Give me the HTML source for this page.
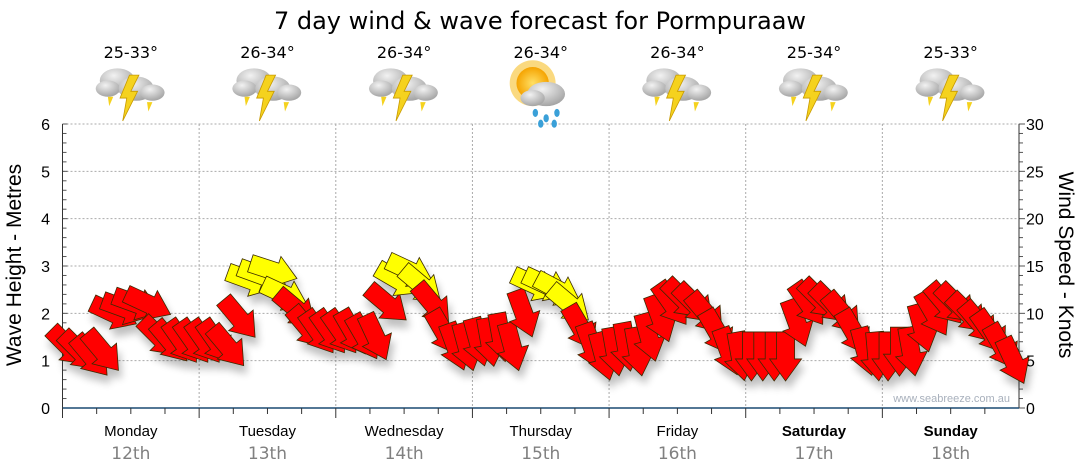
<!DOCTYPE html>
<html><head><meta charset="utf-8"><style>
body{margin:0;background:#fff;font-family:"Liberation Sans",sans-serif}
svg{display:block}
</style></head><body>
<svg id="chart" width="1080" height="475" viewBox="0 0 1080 475">
<defs>
<filter id="sh" x="-50%" y="-50%" width="200%" height="200%"><feGaussianBlur in="SourceAlpha" stdDeviation="4"/><feOffset dx="3" dy="8"/><feComponentTransfer><feFuncA type="linear" slope="0.25"/></feComponentTransfer><feMerge><feMergeNode/><feMergeNode in="SourceGraphic"/></feMerge></filter>
<radialGradient id="cg" cx="0.4" cy="0.3" r="0.8"><stop offset="0" stop-color="#f2f2f2"/><stop offset="1" stop-color="#9a9a9a"/></radialGradient>
<radialGradient id="sg" cx="0.5" cy="0.5" r="0.5"><stop offset="0" stop-color="#ffe066"/><stop offset="1" stop-color="#f5a300"/></radialGradient>
</defs>
<text x="540" y="29" text-anchor="middle" font-size="24" font-family="DejaVu Sans, sans-serif" fill="#000">7 day wind &amp; wave forecast for Pormpuraaw</text>
<g id="grid"></g><g id="axes"></g><g id="top"></g><g id="marks" filter="url(#sh)"></g>
<text x="1010" y="402" text-anchor="end" font-size="11" fill="#a8b0bc">www.seabreeze.com.au</text>
<text transform="translate(21,265) rotate(-90)" text-anchor="middle" font-size="21">Wave Height - Metres</text>
<text transform="translate(1059,265) rotate(90)" text-anchor="middle" font-size="21">Wind Speed - Knots</text>
</svg>
<script>
const days=["Monday","Tuesday","Wednesday","Thursday","Friday","Saturday","Sunday"];
const dates=["12th","13th","14th","15th","16th","17th","18th"];
const temps=["25-33°","26-34°","26-34°","26-34°","26-34°","25-34°","25-33°"];
const icons=["storm","storm","storm","sunrain","storm","storm","storm"];
const waveTicks=[0,1,2,3,4,5,6];
const windTicks=[0,5,10,15,20,25,30];
const windKnots=[6.5,6,5.5,6,10,10.5,11,11,7.5,7,7,7,
7,7,6.5,9.5,13.5,14,14.5,12,10.5,8.5,8,8,
8,8,7.5,7.5,11,13.5,14.5,13,11,8,6.5,6.5,
7,7,7.5,6.5,10,13,13,12.5,11,8.5,6.5,5.5,
6,6.5,6,7.5,9.5,11,11.5,11,10,8,6,5.5,
5.5,5.5,5.5,5.5,9,11,11.5,11,10,8,6,5.5,
5.5,6,6,8.5,10,11,11,10,9,8,6.5,5];
const windDir=[45,45,50,50,25,20,20,25,45,50,55,55,
55,55,50,50,20,20,18,25,40,50,55,55,
55,60,60,65,40,30,25,40,50,60,70,75,
75,80,80,75,70,25,25,28,40,60,70,75,
80,80,80,75,70,55,45,45,50,60,70,80,
90,90,90,90,70,55,45,45,50,60,75,85,
90,90,80,75,60,50,45,45,50,55,60,65];
const windColor=["r","r","r","r","r","r","r","r","r","r","r","r",
"r","r","r","r","y","y","y","y","r","r","r","r",
"r","r","r","r","r","y","y","y","r","r","r","r",
"r","r","r","r","r","y","y","y","y","r","r","r",
"r","r","r","r","r","r","r","r","r","r","r","r",
"r","r","r","r","r","r","r","r","r","r","r","r",
"r","r","r","r","r","r","r","r","r","r","r","r"];
const NS="http://www.w3.org/2000/svg";
const X0=62.5,X1=1019,Y0=408,Y1=124,DW=(X1-X0)/7;
const yM=m=>Y0-(m/6)*(Y0-Y1);
const yK=k=>Y0-(k/30)*(Y0-Y1);
const xS=i=>X0+(i+0.5)*(X1-X0)/windKnots.length;
function el(t,a,p){const e=document.createElementNS(NS,t);for(const k in a)e.setAttribute(k,a[k]);p.appendChild(e);return e;}
const grid=document.getElementById('grid'),axes=document.getElementById('axes'),top_=document.getElementById('top'),marks=document.getElementById('marks');
waveTicks.forEach(m=>{
 if(m>0){const g=el('line',{x1:X0,x2:X1,y1:yM(m),y2:yM(m),stroke:'#aaa','stroke-dasharray':'2,2'},grid);
 
 }
 const t=el('text',{x:50,y:yM(m)+6,'text-anchor':'end','font-size':16},axes);t.textContent=m;
 
 
});
windTicks.forEach(k=>{
 const t=el('text',{x:1026,y:yK(k)+6,'font-size':16},axes);t.textContent=k;
 
 
});
for(let i=0;i<=30;i++){el('line',{x1:X0,x2:X0+(i%5==0?5:4),y1:Y0-i*(Y0-Y1)/30,y2:Y0-i*(Y0-Y1)/30,stroke:'#555'},axes);
 el('line',{x1:X1,x2:X1+(i%5==0?6:4),y1:Y0-i*(Y0-Y1)/30,y2:Y0-i*(Y0-Y1)/30,stroke:'#555'},axes);}
el('line',{x1:X0,x2:X0,y1:Y1,y2:Y0,stroke:'#333'},axes);
el('line',{x1:X1,x2:X1,y1:Y1,y2:Y0,stroke:'#333'},axes);
el('line',{x1:X0,x2:X1,y1:Y0,y2:Y0,stroke:'#1a4a72','stroke-width':1.5},axes);
for(let i=0;i<28;i++){const x=X0+i*DW/4;el('line',{x1:x,x2:x,y1:Y0,y2:Y0+(i%4==0?10:6),stroke:'#333'},axes);}
days.forEach((d,i)=>{
 const cx=X0+DW*(i+0.5);
 if(i>0){const g=el('line',{x1:X0+DW*i,x2:X0+DW*i,y1:Y1,y2:Y0,stroke:'#aaa','stroke-dasharray':'2,2'},grid);
 
 }
 const t=el('text',{x:cx,y:436,'text-anchor':'middle','font-size':15,'font-weight':i>=5?'bold':'normal'},axes);t.textContent=d;
 
 
 const t2=el('text',{x:cx,y:459,'text-anchor':'middle','font-size':17,fill:'#808080','font-family':'DejaVu Sans, sans-serif'},axes);t2.textContent=dates[i];
 
 
 const t3=el('text',{x:cx,y:58,'text-anchor':'middle','font-size':16,'font-family':'DejaVu Sans, sans-serif'},top_);t3.textContent=temps[i];
 
 
 const g=el('g',{transform:`translate(${cx},94) scale(1.35)`},top_);
 
 
 if(icons[i]=='storm'){
  el('ellipse',{cx:-10,cy:-10,rx:13,ry:9,fill:'url(#cg)'},g);
  el('ellipse',{cx:-17,cy:-4,rx:9,ry:6,fill:'url(#cg)'},g);
  el('ellipse',{cx:4,cy:-4,rx:13,ry:9,fill:'url(#cg)'},g);
  el('ellipse',{cx:16,cy:-1,rx:9,ry:6,fill:'url(#cg)'},g);
  el('polygon',{points:'-1,-14 6,-14 0,-2 5,-2 -6,20 -3,3 -8,3',fill:'#f5d21e',stroke:'#c89a00','stroke-width':0.6},g);
  el('polygon',{points:'-17,2 -13,2 -16,9',fill:'#f5d21e'},g);
  el('polygon',{points:'12,6 16,6 13,13',fill:'#f5d21e'},g);
 } else {
  el('circle',{cx:-6,cy:-8,r:17,fill:'#f5b400',opacity:0.5},g);
  el('circle',{cx:-6,cy:-8,r:12,fill:'url(#sg)'},g);
  el('ellipse',{cx:4,cy:0,rx:14,ry:9,fill:'url(#cg)'},g);
  el('ellipse',{cx:-6,cy:3,rx:9,ry:6,fill:'url(#cg)'},g);
  [[-4,14],[4,18],[12,14],[0,22],[10,22]].forEach(p=>el('ellipse',{cx:p[0],cy:p[1],rx:2,ry:3,fill:'#3aa0d8'},g));
 }
});
windKnots.forEach((k,i)=>{
 const x=xS(i),y=yK(k);
 const p=el('polygon',{points:'-24,-9 3,-9 3,-16 25,0 3,16 3,9 -24,9',transform:`translate(${x},${y}) rotate(${windDir[i]})`,
  fill:windColor[i]=='y'?'#ffff00':'#ff0000',stroke:'#3a2a00','stroke-width':0.8},marks);
 
 
});
</script>
</body></html>
